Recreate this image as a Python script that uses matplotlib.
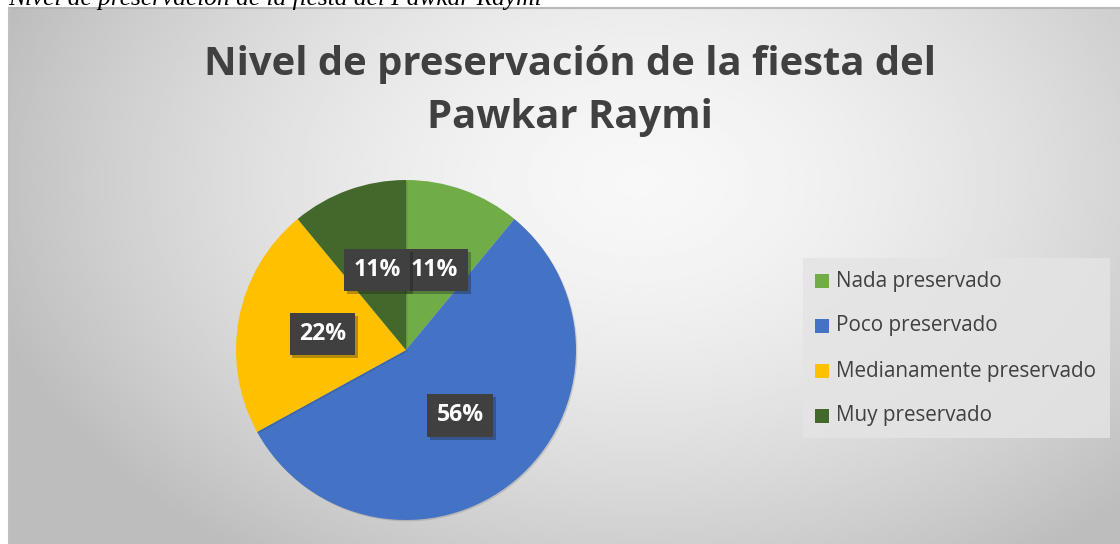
import numpy as np
import matplotlib
matplotlib.use("Agg")
import matplotlib.pyplot as plt
import matplotlib.patheffects as pe
from matplotlib.patches import Rectangle

# Datos del gráfico
categorias = ["Nada preservado", "Poco preservado", "Medianamente preservado", "Muy preservado"]
porcentajes = [11, 56, 22, 11]
colores = ["#70AD47", "#4472C4", "#FFC000", "#43682B"]
titulo = "Nivel de preservación de la fiesta del\nPawkar Raymi"
leyenda_figura = "Nivel de preservación de la fiesta del Pawkar Raymi"

W, H = 1120, 544
fig = plt.figure(figsize=(W / 100, H / 100), dpi=100)
fig.patch.set_facecolor("white")

# Fondo con degradado radial (área del gráfico)
bg = fig.add_axes([9 / W, 0, (W - 9) / W, (H - 8) / H])
bg.set_axis_off()
xx, yy = np.meshgrid(np.linspace(9, W, 400), np.linspace(8, H, 200))
d = np.sqrt(((xx - 640) / 640) ** 2 + ((yy - 180) / 440) ** 2)
val = np.clip(0.97 - 0.21 * d ** 1.6, 0.74, 1.0)
bg.imshow(val, cmap="gray", vmin=0, vmax=1, aspect="auto",
          extent=[0, 1, 0, 1], origin="upper", interpolation="bilinear")
bg.set_xlim(0, 1)
bg.set_ylim(0, 1)
bg.plot([0, 1], [1, 1], color="#b8b8b8", lw=1.5, transform=bg.transAxes, clip_on=False)
bg.plot([0, 0], [0, 1], color="#c0c0c0", lw=1.5, transform=bg.transAxes, clip_on=False)

# Leyenda de figura (cortada en la parte superior, como en el original)
fig.text(8 / W, 1 - 4.5 / H, leyenda_figura, family="Liberation Serif", style="italic",
         fontsize=18.3, color="black", ha="left", va="baseline")

# Título
fig.text(570 / W, 1 - 91 / H, titulo, family="Open Sans", weight="bold",
         fontsize=28.8, color="#404040", ha="center", va="center", linespacing=1.45)

# Pastel
cx, cy, r = 406, 350, 170
ax = fig.add_axes([(cx - r) / W, (H - cy - r) / H, 2 * r / W, 2 * r / H])
ax.set_aspect("equal")
wedges, textos, autotextos = ax.pie(
    porcentajes, colors=colores, startangle=90, counterclock=False,
    autopct=lambda p: f"{p:.0f}%", pctdistance=0.5,
    wedgeprops=dict(linewidth=0))
ax.set_xlim(-1, 1)
ax.set_ylim(-1, 1)
for w in wedges:
    w.set_path_effects([pe.SimplePatchShadow(offset=(1, -1), shadow_rgbFace="#000000", alpha=0.12), pe.Normal()])
for t in autotextos:
    t.set_color("white")
    t.set_fontweight("bold")
    t.set_fontsize(16.7)
    t.set_family("Open Sans")
    t.set_bbox(dict(boxstyle="square,pad=0.4", facecolor="#404040", edgecolor="none"))
    t.get_bbox_patch().set_path_effects(
        [pe.SimplePatchShadow(offset=(2, -2), alpha=0.3), pe.Normal()])

# Leyenda
leg_ax = fig.add_axes([0, 0, 1, 1])
leg_ax.set_axis_off()
leg_ax.set_xlim(0, W)
leg_ax.set_ylim(H, 0)
leg_ax.add_patch(Rectangle((803, 258), 307, 180, facecolor="#e4e4e4", edgecolor="none", alpha=0.85))
for i, (cat, col) in enumerate(zip(categorias, colores)):
    y = 281 + i * 45
    leg_ax.add_patch(Rectangle((815, y - 7), 14, 14, facecolor=col, edgecolor="none"))
    leg_ax.text(836, y, cat, family="Open Sans", fontsize=14.9, color="#404040",
                ha="left", va="center")

fig.savefig("out.png", dpi=100, facecolor=fig.get_facecolor())
